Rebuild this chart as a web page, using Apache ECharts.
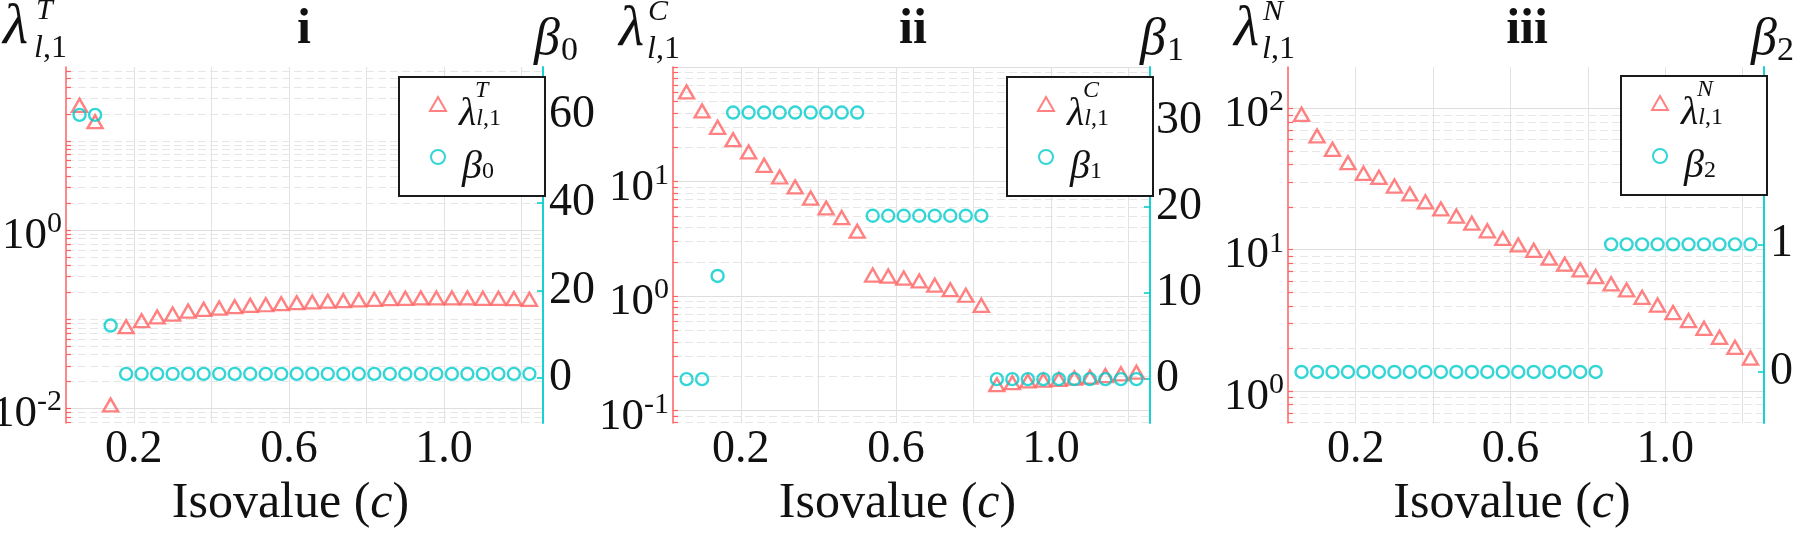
<!DOCTYPE html>
<html>
<head>
<meta charset="utf-8">
<title>Isovalue sweep</title>
<script src="https://cdn.jsdelivr.net/npm/echarts@6/dist/echarts.min.js"></script>
<style>
  html, body { margin: 0; padding: 0; background: #fff; }
  #chart { width: 1800px; height: 536px; }
</style>
</head>
<body>
<div id="chart"></div>
<script>
// isovalues c, shared by the three panels
const isovalues = [0.06, 0.10, 0.14, 0.18, 0.22, 0.26, 0.30, 0.34, 0.38, 0.42,
  0.46, 0.50, 0.54, 0.58, 0.62, 0.66, 0.70, 0.74, 0.78, 0.82,
  0.86, 0.90, 0.94, 0.98, 1.02, 1.06, 1.10, 1.14, 1.18, 1.22]

// panel i
const lambdaT = [25.0, 16.4, 0.0109, 0.0824, 0.0962, 0.106, 0.114, 0.123, 0.129, 0.133,
  0.138, 0.143, 0.145, 0.149, 0.153, 0.156, 0.159, 0.161, 0.164, 0.167,
  0.170, 0.171, 0.173, 0.173, 0.173, 0.173, 0.171, 0.171, 0.170, 0.167]
const beta0 = [60, 60, 12, 1, 1, 1, 1, 1, 1, 1,
  1, 1, 1, 1, 1, 1, 1, 1, 1, 1,
  1, 1, 1, 1, 1, 1, 1, 1, 1, 1]

// panel ii
const lambdaC = [60.9, 41.5, 29.9, 23.3, 18.2, 13.9, 11.0, 9.0, 7.2, 5.9,
  4.87, 3.70, 1.53, 1.50, 1.44, 1.36, 1.25, 1.14, 1.02, 0.834,
  0.169, 0.176, 0.182, 0.185, 0.188, 0.193, 0.197, 0.203, 0.210, 0.217]
const beta1 = [0, 0, 12, 31, 31, 31, 31, 31, 31, 31,
  31, 31, 19, 19, 19, 19, 19, 19, 19, 19,
  0, 0, 0, 0, 0, 0, 0, 0, 0, 0]

// panel iii
const lambdaN = [90.7, 63.7, 51.3, 41.2, 34.7, 32.5, 28.2, 24.8, 21.8, 19.4,
  17.3, 15.4, 13.6, 12.0, 10.8, 9.9, 8.7, 7.9, 7.2, 6.45,
  5.73, 5.19, 4.60, 4.06, 3.59, 3.15, 2.78, 2.40, 2.04, 1.71]
const beta2 = [0, 0, 0, 0, 0, 0, 0, 0, 0, 0,
  0, 0, 0, 0, 0, 0, 0, 0, 0, 0,
  1, 1, 1, 1, 1, 1, 1, 1, 1, 1]

// tick values
const xGridTicks = [0.2, 0.4, 0.6, 0.8, 1.0, 1.2]
const xTickLabels = [0.2, 0.6, 1.0]
const lambdaTTicks = [0.01, 1]
const lambdaCTicks = [0.1, 1, 10]
const lambdaNTicks = [1, 10, 100]
const beta0Ticks = [0, 20, 40, 60]
const beta1Ticks = [0, 10, 20, 30]
const beta2Ticks = [0, 1, 2]
const beta2TickLabels = [0, 1]

const RED = '#ff6262'
const CYAN = '#00cccc'
const INK = '#111'
const SERIF = 'Liberation Serif'

// layout of each panel (pixels) and its axis ranges
const panels = [
  { grid: { left: 66, right: 1257, top: 67, bottom: 113 }, logRange: [-2.165, 1.828], betaRange: [-10.2, 70.9],
    lam: lambdaT, beta: beta0, lamTicks: lambdaTTicks, majors: lambdaTTicks, betaTicks: beta0Ticks, betaLabels: beta0Ticks,
    lamName: 'lamT', betaName: 'beta0', legend: { left: 399, top: 77 } },
  { grid: { left: 673, right: 650, top: 67, bottom: 113 }, logRange: [-1.107, 2.002], betaRange: [-5.1, 36.3],
    lam: lambdaC, beta: beta1, lamTicks: lambdaCTicks, majors: [0.1, 1, 10, 100], betaTicks: beta1Ticks, betaLabels: beta1Ticks,
    lamName: 'lamC', betaName: 'beta1', legend: { left: 1007, top: 77 } },
  { grid: { left: 1288, right: 36, top: 67, bottom: 113 }, logRange: [-0.226, 2.292], betaRange: [-0.4, 2.39],
    lam: lambdaN, beta: beta2, lamTicks: lambdaNTicks, majors: lambdaNTicks, betaTicks: beta2Ticks, betaLabels: beta2TickLabels,
    lamName: 'lamN', betaName: 'beta2', legend: { left: 1621, top: 76 } },
]

const legendNames = {
  lamT: '{g|}{sup|T}\n{sp|}{L|λ}{si|l}{sb|,1}',
  lamC: '{g|}{sup|C}\n{sp|}{L|λ}{si|l}{sb|,1}',
  lamN: '{g|}{sup|N}\n{sp|}{L|λ}{si|l}{sb|,1}',
  beta0: '{g|}\n{sb2|}{L|β}{sb|0}',
  beta1: '{g|}\n{sb2|}{L|β}{sb|1}',
  beta2: '{g|}\n{sb2|}{L|β}{sb|2}',
}

const pairs = ys => isovalues.map((x, i) => [x, ys[i]])

// MATLAB style minor ticks: 1..9 x 10^n inside the range
function logMinorTicks(range) {
  const out = []
  for (let n = Math.floor(range[0]); n <= Math.ceil(range[1]); n++) {
    for (let m = 1; m <= 9; m++) {
      const v = m * Math.pow(10, n)
      const lv = Math.log10(v)
      if (lv >= range[0] && lv <= range[1]) out.push(Number(v.toPrecision(3)))
    }
  }
  return out
}

const xAxes = [], yAxes = [], series = [], legends = []

panels.forEach((p, k) => {
  xAxes.push({
    type: 'value', gridIndex: k, min: 0.025, max: 1.255,
    axisLine: { show: false },
    axisTick: { show: false, customValues: xGridTicks },
    axisLabel: {
      customValues: xTickLabels, margin: 4, color: INK, fontFamily: SERIF, fontSize: 46,
      formatter: v => v.toFixed(1),
    },
    splitLine: { show: true, lineStyle: { color: '#e2e2e2', width: 1 } },
    name: 'Isovalue ({c|c})', nameLocation: 'middle', nameGap: 56,
    nameTextStyle: {
      color: INK, fontFamily: SERIF, fontSize: 50, padding: [0, 28, 0, 0],
      rich: { c: { fontFamily: SERIF, fontSize: 50, fontStyle: 'italic', color: INK } },
    },
  })

  // left log axis, minor dashed grid
  yAxes.push({
    type: 'log', logBase: 10, gridIndex: k, position: 'left',
    min: Math.pow(10, p.logRange[0]), max: Math.pow(10, p.logRange[1]),
    axisLine: { show: true, lineStyle: { color: RED, width: 1.5 } },
    axisTick: { show: true, inside: true, length: 5, customValues: logMinorTicks(p.logRange),
      lineStyle: { color: RED, width: 1.2 } },
    axisLabel: {
      customValues: p.lamTicks, margin: 4, padding: [12, 0, 0, 0],
      formatter: v => '{b|10}{s|' + Math.round(Math.log10(v)) + '}',
      rich: {
        b: { fontFamily: SERIF, fontSize: 45, lineHeight: 44, height: 44, color: INK },
        s: { fontFamily: SERIF, fontSize: 30, lineHeight: 20, height: 20, verticalAlign: 'top', color: INK },
      },
    },
    splitLine: { show: true, lineStyle: { color: '#e6e6e6', width: 1, type: [8, 4] } },
  })

  // same log range, only for the solid grid at labelled decades
  yAxes.push({
    type: 'log', logBase: 10, gridIndex: k, position: 'left',
    min: Math.pow(10, p.logRange[0]), max: Math.pow(10, p.logRange[1]),
    axisLine: { show: false }, axisLabel: { show: false },
    axisTick: { show: false, customValues: p.majors },
    splitLine: { show: true, lineStyle: { color: '#dedede', width: 1.2 } },
  })

  // right axis: Betti number
  yAxes.push({
    type: 'value', gridIndex: k, position: 'right',
    min: p.betaRange[0], max: p.betaRange[1],
    axisLine: { show: true, lineStyle: { color: CYAN, width: 1.8 } },
    axisTick: { show: true, inside: true, length: 6, customValues: p.betaTicks, lineStyle: { color: CYAN, width: 1.5 } },
    axisLabel: { customValues: p.betaLabels, margin: 6, color: INK, fontFamily: SERIF, fontSize: 46 },
    splitLine: { show: false },
  })

  series.push({
    name: p.lamName, type: 'scatter', xAxisIndex: k, yAxisIndex: 3 * k,
    data: pairs(p.lam), symbol: 'triangle', symbolSize: [15, 13],
    itemStyle: { color: 'rgba(0,0,0,0)', borderColor: RED, borderWidth: 2.4 },
    emphasis: { disabled: true }, z: 3,
  })
  series.push({
    name: p.betaName, type: 'scatter', xAxisIndex: k, yAxisIndex: 3 * k + 2,
    data: pairs(p.beta), symbol: 'circle', symbolSize: 12,
    itemStyle: { color: 'rgba(0,0,0,0)', borderColor: CYAN, borderWidth: 2.4 },
    emphasis: { disabled: true }, z: 4,
  })

  legends.push({
    data: [p.lamName, p.betaName], left: p.legend.left, top: p.legend.top,
    orient: 'vertical', selectedMode: false, itemWidth: 16, itemHeight: 14, itemGap: 3,
    padding: [2, 44, 9, 30], backgroundColor: '#fff', borderColor: '#1a1a1a', borderWidth: 2, borderRadius: 0,
    formatter: name => legendNames[name],
    textStyle: {
      color: INK, fontFamily: SERIF,
      rich: {
        g: { width: 24, height: 20, lineHeight: 20 },
        sp: { width: 8, height: 20, lineHeight: 20 },
        sb2: { width: 11, height: 20, lineHeight: 20 },
        sup: { fontFamily: SERIF, fontSize: 24, fontStyle: 'italic', height: 14, lineHeight: 14, verticalAlign: 'top', color: INK },
        L: { fontFamily: SERIF, fontSize: 40, fontStyle: 'italic', height: 20, lineHeight: 20, color: INK },
        si: { fontFamily: SERIF, fontSize: 24, fontStyle: 'italic', height: 10, lineHeight: 10, verticalAlign: 'bottom', color: INK },
        sb: { fontFamily: SERIF, fontSize: 24, height: 10, lineHeight: 10, verticalAlign: 'bottom', color: INK },
      },
    },
  })
})

// free text: panel titles and the axis symbols above the plots
const txt = (x, y, text, size, opts = {}) => ({
  type: 'text', x, y, silent: true,
  style: Object.assign({
    text, fill: INK, fontFamily: SERIF, fontSize: size,
    textAlign: 'left', align: 'left', textVerticalAlign: 'middle', verticalAlign: 'middle',
    rich: { i: { fontFamily: SERIF, fontSize: size, fontStyle: 'italic', fill: INK, color: INK } },
  }, opts),
})
const italic = { fontStyle: 'italic' }
const center = { textAlign: 'center', align: 'center', fontWeight: 'bold' }

const graphic = [
  txt(304, 30, 'i', 50, center), txt(913, 30, 'ii', 50, center), txt(1527, 30, 'iii', 50, center),
  // panel i
  txt(3, 28, 'λ', 58, italic), txt(36, 11, 'T', 30, italic), txt(34, 49, '{i|l},1', 32),
  txt(534, 40, 'β', 52, italic), txt(561, 51, '0', 34),
  // panel ii
  txt(619, 30, 'λ', 58, italic), txt(648, 12, 'C', 30, italic), txt(647, 50, '{i|l},1', 32),
  txt(1140, 40, 'β', 52, italic), txt(1167, 51, '1', 34),
  // panel iii
  txt(1234, 30, 'λ', 58, italic), txt(1263, 12, 'N', 30, italic), txt(1262, 50, '{i|l},1', 32),
  txt(1751, 40, 'β', 52, italic), txt(1777, 51, '2', 34),
]

const chart = echarts.init(document.getElementById('chart'), null, { renderer: 'canvas' })
chart.setOption({
  animation: false,
  backgroundColor: '#fff',
  textStyle: { fontFamily: SERIF },
  // exact plot boxes: do not let labels push the grids around
  grid: panels.map(p => Object.assign({ containLabel: false, outerBoundsMode: 'none' }, p.grid)),
  xAxis: xAxes,
  yAxis: yAxes,
  legend: legends,
  series,
  graphic,
})
</script>
</body>
</html>
